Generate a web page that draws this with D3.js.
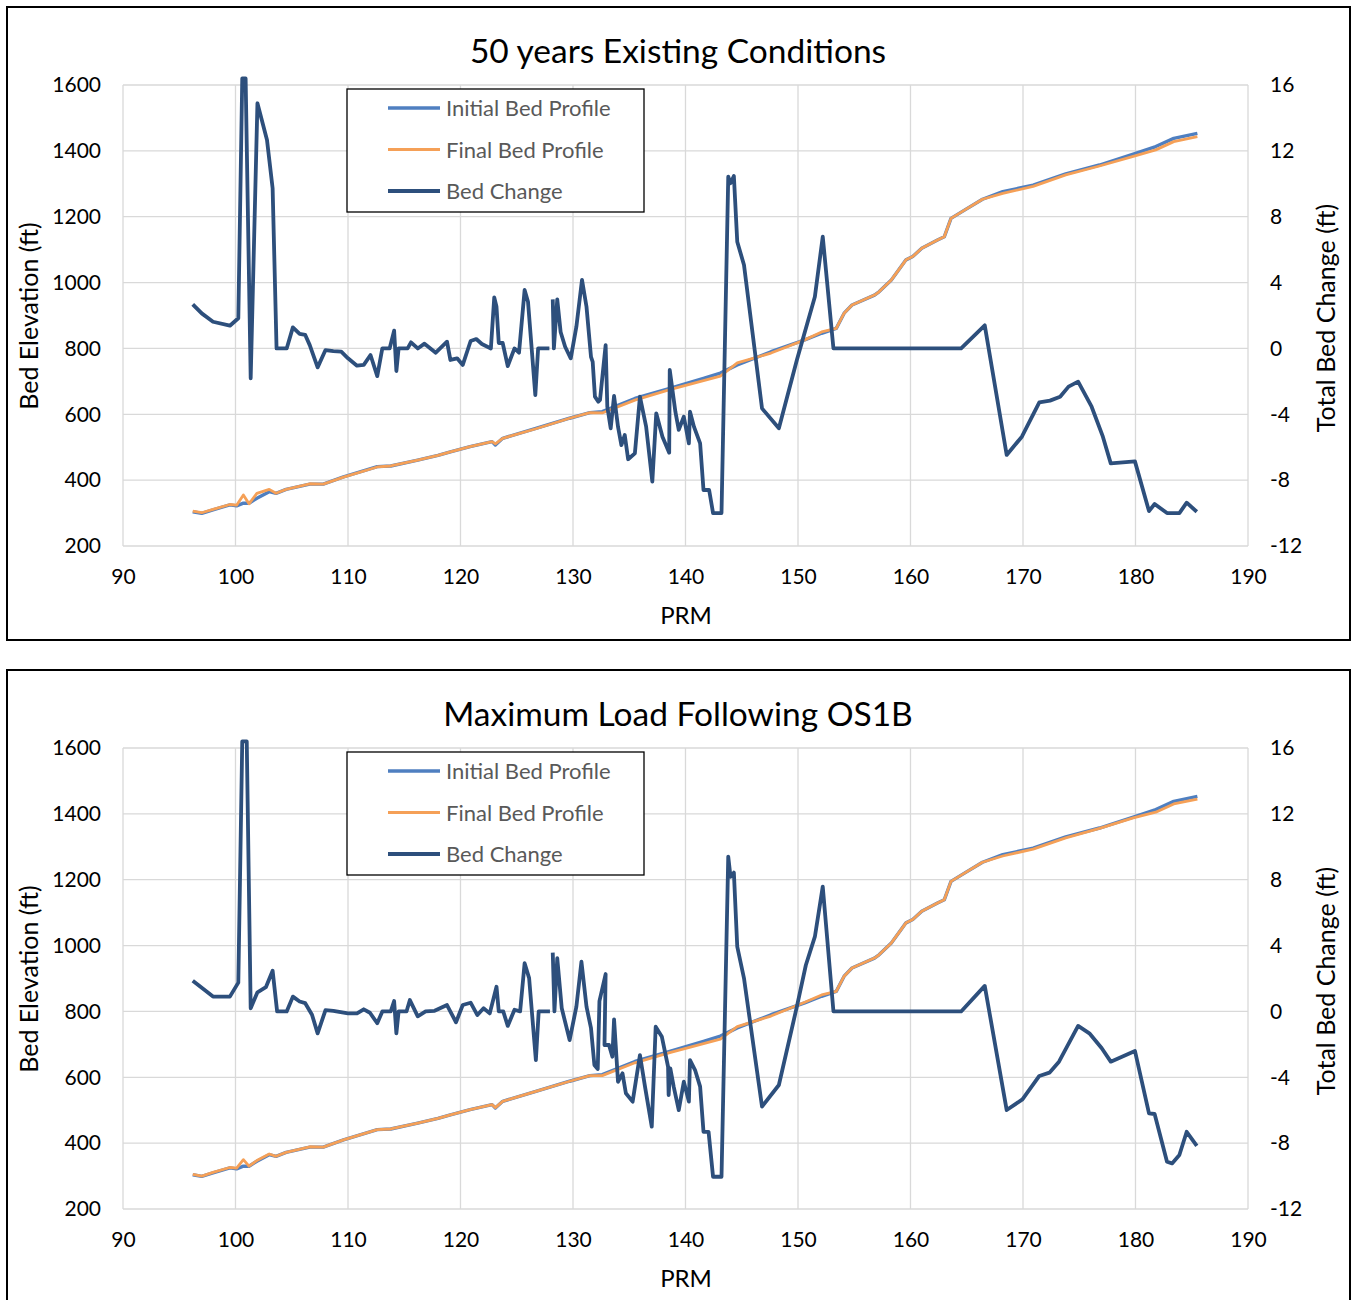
<!DOCTYPE html>
<html>
<head>
<meta charset="utf-8">
<script src="https://cdn.jsdelivr.net/npm/d3@7"></script>
<style>
  body { margin: 0; background: #fff; }
  svg { display: block; }
  text { font-family: Lato, "Open Sans", sans-serif; }
</style>
</head>
<body>
<div id="chart"></div>
<script>
// Bed profile along the river (PRM), shared by both panels
const profilePrm = [96.2, 97.0, 98.0, 99.5, 100.1, 100.7, 101.2, 101.9, 103.0, 103.6, 104.5, 106.6, 107.8, 109.6,
  112.6, 113.8, 116.2, 118.0, 119.1, 120.85, 122.8, 123.1, 123.75, 126.7, 129.7, 131.5, 132.6, 135.5, 138.6,
  141.6, 143.1, 144.6, 147.6, 150.6, 152.1, 153.4, 154.1, 154.8, 156.8, 157.2, 158.3, 159.6, 160.2, 161.0,
  162.4, 163.0, 163.6, 164.8, 166.4, 168.2, 170.9, 173.8, 176.8, 179.8, 181.8, 183.4, 185.5];
const initialBed = [304, 299, 310, 325, 322, 330, 330, 345, 365, 360, 372, 388, 388, 410,
  441, 443, 461, 475, 486, 502, 517, 507, 527, 557, 588, 605, 608, 648, 679,
  709, 725, 750, 790, 826, 846, 861, 907, 932, 962, 972, 1008, 1069, 1079, 1104,
  1129, 1139, 1195, 1220, 1253, 1276, 1296, 1330, 1357, 1390, 1413, 1438, 1453];
const finalBedTop = [306, 301, 311, 326, 324, 355, 328, 360, 372, 360, 372, 389, 388, 409,
  440, 443, 461, 475, 486, 502, 517, 510, 527, 556, 588, 605, 604, 643, 675,
  702, 716, 756, 786, 826, 850, 861, 907, 932, 962, 972, 1008, 1069, 1079, 1104,
  1129, 1139, 1195, 1220, 1253, 1271, 1292, 1327, 1354, 1383, 1403, 1428, 1443];
const finalBedBottom = [305, 300, 311, 326, 324, 350, 330, 347, 367, 360, 372, 389, 388, 410,
  441, 443, 461, 475, 486, 502, 517, 508, 527, 557, 588, 605, 605, 644, 675,
  702, 716, 754, 786, 828, 850, 861, 907, 932, 962, 972, 1008, 1069, 1079, 1104,
  1129, 1139, 1195, 1220, 1253, 1272, 1293, 1327, 1356, 1388, 1405, 1430, 1445];

// Total bed change, top panel (50 years existing conditions)
const changePrmTop = [96.2, 97.0, 98.0, 99.5, 100.25, 100.6, 100.7, 100.9, 101.35, 101.95, 102.8, 103.3, 103.65,
  104.55, 105.1, 105.7, 106.2, 106.6, 107.3, 108.0, 108.7, 109.4, 110.0, 110.8, 111.4, 112.0, 112.6, 113.05,
  113.7, 114.1, 114.3, 114.5, 115.3, 115.6, 116.2, 116.8, 117.8, 118.8, 119.1, 119.7, 120.2, 120.9, 121.4,
  121.9, 122.7, 123.0, 123.2, 123.4, 123.75, 124.2, 124.8, 125.2, 125.7, 126.0, 126.65, 126.9, 127.9, 128.05,
  128.2, 128.3, 128.6, 128.9, 129.3, 129.8, 130.3, 130.8, 131.2, 131.6, 131.75, 131.95, 132.25, 132.4, 132.9,
  133.05, 133.35, 133.65, 134.0, 134.3, 134.6, 134.9, 135.5, 135.95, 136.5, 137.05, 137.4, 137.95, 138.55,
  138.6, 139.1, 139.4, 139.85, 140.3, 140.4, 140.75, 141.3, 141.6, 142.1, 142.45, 143.2, 143.8, 144.0, 144.3,
  144.6, 145.2, 146.8, 148.3, 149.9, 151.5, 152.2, 153.15, 162.6, 164.5, 166.6, 168.55, 169.9, 171.45, 172.4,
  173.3, 174.05, 174.9, 176.1, 177.1, 177.8, 179.95, 181.2, 181.7, 182.8, 183.9, 184.55, 185.45];
const bedChangeTop = [2.68, 2.13, 1.62, 1.38, 1.83, 16.4, 16.4, 16.4, -1.81, 14.89, 12.66, 9.72, 0,
  0, 1.28, 0.88, 0.82, 0.2, -1.15, -0.1, -0.16, -0.2, -0.6, -1.05, -1.0, -0.4, -1.68, 0,
  0, 1.08, -1.37, 0, 0, 0.37, 0, 0.29, -0.26, 0.41, -0.7, -0.6, -1.0, 0.45, 0.57,
  0.27, 0, 3.1, 2.53, 0.33, 0.33, -1.07, 0, -0.26, 3.55, 2.84, -2.83, 0, 0, null,
  2.98, 0, 2.98, 1.0, 0.1, -0.6, 1.32, 4.16, 2.53, -0.51, -0.81, -2.93, -3.24, -3.13, 0.2,
  -3.54, -4.85, -2.89, -4.75, -5.87, -5.26, -6.73, -6.37, -2.93, -4.75, -8.09, -3.94, -5.36, -6.33,
  -1.31, -3.84, -4.95, -4.15, -5.77, -3.84, -4.75, -5.77, -8.6, -8.6, -10.0, -10.0, 10.43, 10.03, 10.47,
  6.48, 5.07, -3.64, -4.85, -0.7, 3.14, 6.79, 0, 0, 0, 1.4, -6.47, -5.36, -3.27, -3.17,
  -2.93, -2.32, -2.02, -3.54, -5.36, -6.98, -6.86, -9.88, -9.45, -10.0, -10.0, -9.37, -9.92];

// Total bed change, bottom panel (maximum load following OS1B)
const changePrmBottom = [96.2, 98.0, 99.5, 100.25, 100.6, 100.75, 101.0, 101.35, 101.95, 102.7, 103.3, 103.7,
  104.55, 105.1, 105.7, 106.2, 106.8, 107.3, 108.0, 108.7, 110.0, 110.8, 111.4, 111.95, 112.6, 113.05, 113.8,
  114.1, 114.3, 114.5, 115.2, 115.5, 116.2, 116.9, 117.7, 118.8, 119.6, 120.2, 120.9, 121.5, 122.05, 122.6,
  123.2, 123.4, 123.8, 124.2, 124.8, 125.3, 125.7, 126.1, 126.7, 126.95, 127.95, 128.05, 128.2, 128.35, 128.6,
  129.0, 129.7, 130.3, 130.75, 131.2, 131.6, 131.9, 132.2, 132.35, 132.9, 132.8, 133.2, 133.5, 133.65, 134.0,
  134.4, 134.7, 135.3, 135.95, 136.4, 137.0, 137.35, 137.9, 138.45, 138.5, 138.65, 138.95, 139.4, 139.85,
  140.3, 140.4, 140.85, 141.3, 141.6, 142.05, 142.45, 143.2, 143.8, 144.0, 144.3, 144.6, 145.2, 146.8, 148.3,
  149.9, 150.7, 151.5, 152.2, 153.15, 162.6, 164.5, 166.6, 168.55, 169.95, 171.45, 172.35, 173.2, 174.9, 175.9,
  177.0, 177.8, 179.95, 181.2, 181.7, 182.8, 183.25, 183.9, 184.55, 185.45];
const bedChangeBottom = [1.87, 0.9, 0.9, 1.75, 16.4, 16.4, 16.4, 0.19, 1.16, 1.47, 2.47, 0,
  0, 0.9, 0.6, 0.5, -0.2, -1.33, 0.08, 0.04, -0.12, -0.12, 0.13, -0.08, -0.72, 0, 0,
  0.63, -1.33, 0, 0, 0.69, -0.3, 0, 0.04, 0.39, -0.66, 0.39, 0.53, -0.22, 0.19, -0.12,
  1.5, 0, 0, -0.88, 0.1, 0, 2.93, 2.02, -2.96, 0, 0, null, 3.57, 0, 3.23,
  0.19, -1.74, 0.29, 3.02, 0.29, -1.02, -3.25, -3.5, 0.63, 2.27, -2.04, -2.04, -2.75, -0.48, -4.27,
  -3.76, -4.97, -5.48, -2.65, -4.57, -7.0, -0.93, -1.54, -3.36, -5.08, -3.46, -4.57, -5.99, -4.27,
  -5.48, -2.96, -3.56, -4.57, -7.31, -7.31, -10.04, -10.04, 9.4, 8.18, 8.43, 3.93, 2.01, -5.78, -4.47,
  0.29, 2.82, 4.54, 7.58, 0, 0, 0, 1.55, -5.99, -5.34, -3.92, -3.72, -3.05, -0.88, -1.33,
  -2.24, -3.05, -2.4, -6.19, -6.23, -9.13, -9.23, -8.72, -7.31, -8.16];

const xTicks = [90, 100, 110, 120, 130, 140, 150, 160, 170, 180, 190];
const elevTicks = [200, 400, 600, 800, 1000, 1200, 1400, 1600];
const changeTicks = [-12, -8, -4, 0, 4, 8, 12, 16];
const legendLabels = ['Initial Bed Profile', 'Final Bed Profile', 'Bed Change'];

const colors = { initial: '#4F7FC0', final: '#F5A057', change: '#2D4F7C', text: '#595959', grid: '#D9D9D9' };

const svg = d3.select('#chart').append('svg')
    .attr('width', 1354)
    .attr('height', 1300);

const x = d3.scaleLinear().domain([90, 190]).range([123, 1248]);
const yElev = d3.scaleLinear().domain([200, 1600]).range([546, 85]);
const yChange = d3.scaleLinear().domain([-12, 16]).range([546, 85]);

drawPanel(0, '50 years Existing Conditions', finalBedTop, changePrmTop, bedChangeTop);
drawPanel(663, 'Maximum Load Following OS1B', finalBedBottom, changePrmBottom, bedChangeBottom);

function drawPanel(top, title, finalBed, changePrm, bedChange) {
    const g = svg.append('g').attr('transform', `translate(0,${top})`);

    // outer chart frame
    g.append('rect')
        .attr('x', 7).attr('y', 7)
        .attr('width', 1343).attr('height', 633)
        .attr('fill', '#fff')
        .attr('stroke', '#000')
        .attr('stroke-width', 2);

    g.append('text')
        .attr('x', 678).attr('y', 63)
        .attr('text-anchor', 'middle')
        .attr('font-size', 33.5)
        .attr('fill', '#000')
        .text(title);

    // gridlines
    g.append('g').selectAll('line').data(elevTicks).join('line')
        .attr('x1', 123).attr('x2', 1248)
        .attr('y1', d => yElev(d)).attr('y2', d => yElev(d))
        .attr('stroke', colors.grid).attr('stroke-width', 1.3);
    g.append('g').selectAll('line').data(xTicks).join('line')
        .attr('x1', d => x(d)).attr('x2', d => x(d))
        .attr('y1', 85).attr('y2', 546)
        .attr('stroke', colors.grid).attr('stroke-width', 1.3);

    // axes (labels only, Excel style)
    const axisFont = sel => sel.call(s => s.select('.domain').remove())
        .call(s => s.selectAll('.tick line').remove())
        .call(s => s.selectAll('text').attr('font-size', 21).attr('fill', '#000')
            .attr('font-family', 'Lato, "Open Sans", sans-serif'));
    const plain = d => String(d);

    g.append('g').attr('transform', 'translate(123,0)')
        .call(d3.axisLeft(yElev).tickValues(elevTicks).tickFormat(plain).tickSize(0).tickPadding(22))
        .call(axisFont);
    g.append('g').attr('transform', 'translate(1248,0)')
        .call(d3.axisRight(yChange).tickValues(changeTicks).tickFormat(plain).tickSize(0).tickPadding(22))
        .call(axisFont);
    g.append('g').attr('transform', 'translate(0,546)')
        .call(d3.axisBottom(x).tickValues(xTicks).tickFormat(plain).tickSize(0).tickPadding(23))
        .call(axisFont);

    g.append('text')
        .attr('transform', 'translate(38,316) rotate(-90)')
        .attr('text-anchor', 'middle')
        .attr('font-size', 25)
        .text('Bed Elevation (ft)');
    g.append('text')
        .attr('transform', 'translate(1335,318) rotate(-90)')
        .attr('text-anchor', 'middle')
        .attr('font-size', 25)
        .text('Total Bed Change (ft)');
    g.append('text')
        .attr('x', 686).attr('y', 624)
        .attr('text-anchor', 'middle')
        .attr('font-size', 24)
        .text('PRM');

    // series
    const profileLine = vals => d3.line()
        .x((d, i) => x(profilePrm[i]))
        .y(d => yElev(d))(vals);

    g.append('path')
        .attr('d', profileLine(initialBed))
        .attr('fill', 'none')
        .attr('stroke', colors.initial)
        .attr('stroke-width', 3.4)
        .attr('stroke-linejoin', 'round');
    g.append('path')
        .attr('d', profileLine(finalBed))
        .attr('fill', 'none')
        .attr('stroke', colors.final)
        .attr('stroke-width', 2.8)
        .attr('stroke-linejoin', 'round');

    const changeLine = d3.line()
        .defined(d => d != null)
        .x((d, i) => x(changePrm[i]))
        .y(d => yChange(d));
    g.append('path')
        .attr('d', changeLine(bedChange))
        .attr('fill', 'none')
        .attr('stroke', colors.change)
        .attr('stroke-width', 3.8)
        .attr('stroke-linejoin', 'round');

    // legend
    const legend = g.append('g');
    legend.append('rect')
        .attr('x', 347).attr('y', 89)
        .attr('width', 297).attr('height', 123)
        .attr('fill', '#fff')
        .attr('stroke', '#000')
        .attr('stroke-width', 1.3);
    const legendColors = [colors.initial, colors.final, colors.change];
    const legendWidths = [3.4, 2.8, 3.8];
    legendLabels.forEach((label, i) => {
        const ly = 108 + i * 41.5;
        legend.append('line')
            .attr('x1', 388).attr('x2', 440)
            .attr('y1', ly).attr('y2', ly)
            .attr('stroke', legendColors[i])
            .attr('stroke-width', legendWidths[i]);
        legend.append('text')
            .attr('x', 446).attr('y', ly + 8)
            .attr('font-size', 22)
            .attr('fill', colors.text)
            .text(label);
    });
}
</script>
</body>
</html>
